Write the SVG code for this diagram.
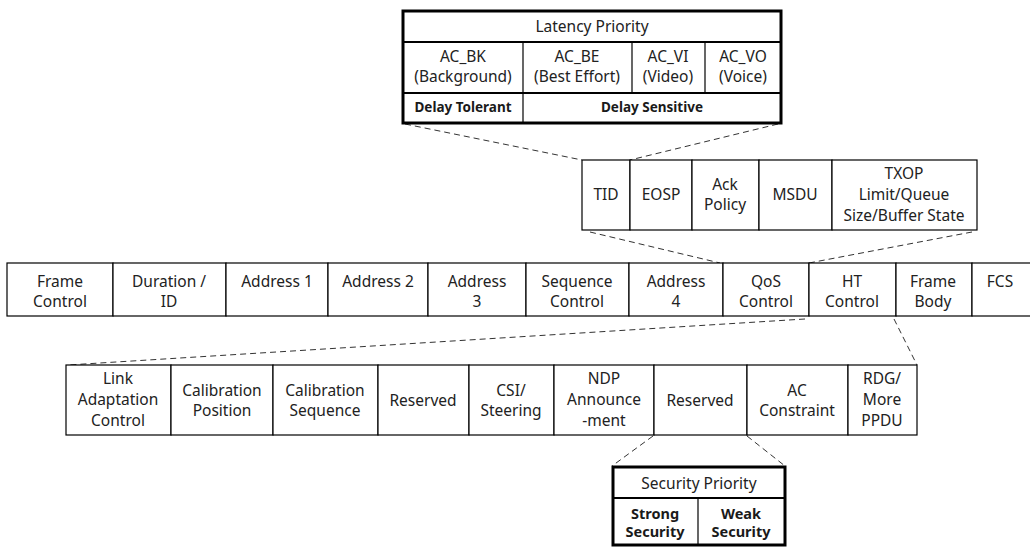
<svg xmlns="http://www.w3.org/2000/svg" width="1030" height="547" viewBox="0 0 1030 547">
  <style>
    .cell { fill: #ffffff; stroke: #000000; stroke-width: 1.2; }
    .frame { fill: none; stroke: #000000; stroke-width: 3; }
    .rule { stroke: #000000; stroke-width: 2; }
    .div { stroke: #000000; stroke-width: 1.2; }
    .t { font-family: "Noto Sans", "Open Sans", sans-serif; font-size: 15.5px; fill: #222222; text-anchor: middle; }
    .b { font-family: "Noto Sans", "Open Sans", sans-serif; font-size: 13.5px; font-weight: bold; fill: #1a1a1a; text-anchor: middle; }
    .bs { font-size: 14.5px; }
    .dash { fill: none; stroke: #333333; stroke-width: 1; stroke-dasharray: 6 4; }
  </style>
  <rect width="1030" height="547" fill="#ffffff"/>

  <!-- expansion guides -->
  <g id="connectors">
    <line class="dash" x1="405" y1="124" x2="582" y2="160"/>
    <line class="dash" x1="778" y1="124" x2="630" y2="160"/>
    <line class="dash" x1="590" y1="232" x2="720" y2="263"/>
    <line class="dash" x1="972" y1="232" x2="809" y2="263"/>
    <line class="dash" x1="805" y1="319" x2="68" y2="365"/>
    <line class="dash" x1="894" y1="319" x2="917" y2="365"/>
    <line class="dash" x1="653" y1="436" x2="612" y2="466"/>
    <line class="dash" x1="747" y1="436" x2="785" y2="466"/>
  </g>

  <!-- Latency priority table -->
  <g id="latency-priority">
    <rect x="403" y="11" width="378" height="112" fill="#ffffff"/>
    <line class="rule" x1="403" y1="42" x2="781" y2="42"/>
    <line class="rule" x1="403" y1="93" x2="781" y2="93"/>
    <line class="div" x1="523" y1="42" x2="523" y2="123"/>
    <line class="div" x1="632" y1="42" x2="632" y2="93"/>
    <line class="div" x1="705" y1="42" x2="705" y2="93"/>
    <rect class="frame" x="403" y="11" width="378" height="112"/>
    <text class="t" x="592" y="32">Latency Priority</text>
    <text class="t" x="463" y="62">AC_BK</text>
    <text class="t" x="463" y="82">(Background)</text>
    <text class="t" x="577" y="62">AC_BE</text>
    <text class="t" x="577" y="82">(Best Effort)</text>
    <text class="t" x="668" y="62">AC_VI</text>
    <text class="t" x="668" y="82">(Video)</text>
    <text class="t" x="743" y="62">AC_VO</text>
    <text class="t" x="743" y="82">(Voice)</text>
    <text class="b" x="463" y="112">Delay Tolerant</text>
    <text class="b" x="652" y="112">Delay Sensitive</text>
  </g>

  <!-- QoS Control subfields -->
  <g id="qos-fields">
    <rect class="cell" x="582" y="160" width="48" height="70"/>
    <rect class="cell" x="630" y="160" width="62" height="70"/>
    <rect class="cell" x="692" y="160" width="67" height="70"/>
    <rect class="cell" x="759" y="160" width="73" height="70"/>
    <rect class="cell" x="832" y="160" width="145" height="70"/>
    <text class="t" x="606" y="200">TID</text>
    <text class="t" x="661" y="200">EOSP</text>
    <text class="t" x="725" y="190">Ack</text>
    <text class="t" x="725" y="210">Policy</text>
    <text class="t" x="795" y="200">MSDU</text>
    <text class="t" x="904" y="179">TXOP</text>
    <text class="t" x="904" y="200">Limit/Queue</text>
    <text class="t" x="904" y="221">Size/Buffer State</text>
  </g>

  <!-- MAC frame fields -->
  <g id="mac-frame">
    <rect class="cell" x="7" y="263" width="106" height="53"/>
    <rect class="cell" x="113" y="263" width="113" height="53"/>
    <rect class="cell" x="226" y="263" width="102" height="53"/>
    <rect class="cell" x="328" y="263" width="100" height="53"/>
    <rect class="cell" x="428" y="263" width="98" height="53"/>
    <rect class="cell" x="526" y="263" width="103" height="53"/>
    <rect class="cell" x="629" y="263" width="94" height="53"/>
    <rect class="cell" x="723" y="263" width="86" height="53"/>
    <rect class="cell" x="809" y="263" width="87" height="53"/>
    <rect class="cell" x="896" y="263" width="76" height="53"/>
    <rect class="cell" x="972" y="263" width="62" height="53"/>
    <text class="t" x="60" y="287">Frame</text>
    <text class="t" x="60" y="307">Control</text>
    <text class="t" x="169" y="287">Duration /</text>
    <text class="t" x="169" y="307">ID</text>
    <text class="t" x="277" y="287">Address 1</text>
    <text class="t" x="378" y="287">Address 2</text>
    <text class="t" x="477" y="287">Address</text>
    <text class="t" x="477" y="307">3</text>
    <text class="t" x="577" y="287">Sequence</text>
    <text class="t" x="577" y="307">Control</text>
    <text class="t" x="676" y="287">Address</text>
    <text class="t" x="676" y="307">4</text>
    <text class="t" x="766" y="287">QoS</text>
    <text class="t" x="766" y="307">Control</text>
    <text class="t" x="852" y="287">HT</text>
    <text class="t" x="852" y="307">Control</text>
    <text class="t" x="933" y="287">Frame</text>
    <text class="t" x="933" y="307">Body</text>
    <text class="t" x="1000" y="287">FCS</text>
  </g>

  <!-- HT Control subfields -->
  <g id="ht-fields">
    <rect class="cell" x="66" y="365" width="105" height="70"/>
    <rect class="cell" x="171" y="365" width="102" height="70"/>
    <rect class="cell" x="273" y="365" width="105" height="70"/>
    <rect class="cell" x="378" y="365" width="91" height="70"/>
    <rect class="cell" x="469" y="365" width="85" height="70"/>
    <rect class="cell" x="554" y="365" width="100" height="70"/>
    <rect class="cell" x="654" y="365" width="93" height="70"/>
    <rect class="cell" x="747" y="365" width="101" height="70"/>
    <rect class="cell" x="848" y="365" width="69" height="70"/>
    <text class="t" x="118" y="384">Link</text>
    <text class="t" x="118" y="405">Adaptation</text>
    <text class="t" x="118" y="426">Control</text>
    <text class="t" x="222" y="396">Calibration</text>
    <text class="t" x="222" y="416">Position</text>
    <text class="t" x="325" y="396">Calibration</text>
    <text class="t" x="325" y="416">Sequence</text>
    <text class="t" x="423" y="406">Reserved</text>
    <text class="t" x="511" y="396">CSI/</text>
    <text class="t" x="511" y="416">Steering</text>
    <text class="t" x="604" y="384">NDP</text>
    <text class="t" x="604" y="405">Announce</text>
    <text class="t" x="604" y="426">-ment</text>
    <text class="t" x="700" y="406">Reserved</text>
    <text class="t" x="797" y="396">AC</text>
    <text class="t" x="797" y="416">Constraint</text>
    <text class="t" x="882" y="384">RDG/</text>
    <text class="t" x="882" y="405">More</text>
    <text class="t" x="882" y="426">PPDU</text>
  </g>

  <!-- Security priority table -->
  <g id="security-priority">
    <rect x="613" y="467" width="172" height="78" fill="#ffffff"/>
    <line class="rule" x1="613" y1="498" x2="785" y2="498"/>
    <line class="div" x1="698" y1="498" x2="698" y2="545"/>
    <rect class="frame" x="613" y="467" width="172" height="78"/>
    <text class="t" x="699" y="489">Security Priority</text>
    <text class="b bs" x="655" y="519">Strong</text>
    <text class="b bs" x="655" y="537">Security</text>
    <text class="b bs" x="741" y="519">Weak</text>
    <text class="b bs" x="741" y="537">Security</text>
  </g>
</svg>
